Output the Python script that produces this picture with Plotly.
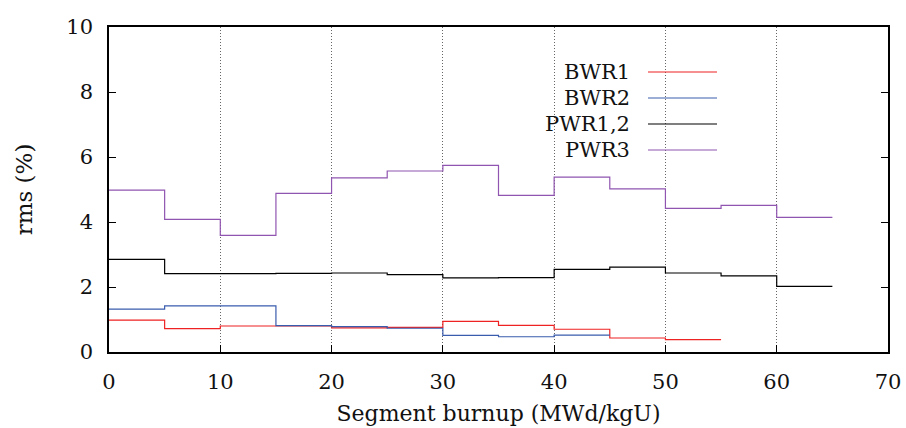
import plotly.graph_objects as go

# Bin start edges (MWd/kgU), bin width 5
bwr1_x = [0, 5, 10, 15, 20, 25, 30, 35, 40, 45, 50]
bwr1_y = [0.98, 0.72, 0.80, 0.80, 0.74, 0.76, 0.94, 0.82, 0.70, 0.43, 0.38]

bwr2_x = [0, 5, 10, 15, 20, 25, 30, 35, 40]
bwr2_y = [1.32, 1.42, 1.42, 0.81, 0.78, 0.73, 0.51, 0.47, 0.52]

pwr12_x = [0, 5, 10, 15, 20, 25, 30, 35, 40, 45, 50, 55, 60]
pwr12_y = [2.85, 2.41, 2.41, 2.42, 2.43, 2.38, 2.28, 2.29, 2.54, 2.61, 2.43, 2.34, 2.02]

pwr3_x = [0, 5, 10, 15, 20, 25, 30, 35, 40, 45, 50, 55, 60]
pwr3_y = [4.98, 4.08, 3.59, 4.88, 5.36, 5.57, 5.74, 4.82, 5.38, 5.02, 4.42, 4.51, 4.14]

bin_width = 5
names = ["BWR1", "BWR2", "PWR1,2", "PWR3"]
colors = ["#ee2222", "#3a5cad", "#000000", "#9055b0"]
series = [(bwr1_x, bwr1_y), (bwr2_x, bwr2_y), (pwr12_x, pwr12_y), (pwr3_x, pwr3_y)]

x_ticks = [0, 10, 20, 30, 40, 50, 60, 70]
y_ticks = [0, 2, 4, 6, 8, 10]

FONT = "DejaVu Serif, serif"
L, R, T, B = 109, 18, 27, 76
PW, PH = 906 - L - R, 428 - T - B

fig = go.Figure()
for (xs, ys), name, col in zip(series, names, colors):
    xx = list(xs) + [xs[-1] + bin_width]
    yy = list(ys) + [ys[-1]]
    fig.add_trace(go.Scatter(x=xx, y=yy, mode="lines", line_shape="hv",
                             line=dict(color=col, width=1.2), name=name,
                             showlegend=False))

# Custom key (text right-aligned, sample line to the right), on a white box
fig.add_shape(type="rect", xref="paper", yref="paper",
              x0=(540 - L) / PW, x1=(726 - L) / PW,
              y0=(352 - 163) / PH, y1=(352 - 58) / PH,
              fillcolor="white", line=dict(width=0), layer="below")
rows_py = [72, 98, 124, 150]
for name, col, py in zip(names, colors, rows_py):
    yp = (352 - py) / PH
    fig.add_annotation(xref="paper", yref="paper", x=(632 - L) / PW, y=yp,
                       text=name, showarrow=False, xanchor="right", yanchor="middle",
                       font=dict(family=FONT, size=21, color="#111"))
    fig.add_shape(type="line", xref="paper", yref="paper",
                  x0=(648 - L) / PW, x1=(717 - L) / PW, y0=yp, y1=yp,
                  line=dict(color=col, width=1.2))

fig.update_layout(
    width=906, height=428,
    margin=dict(l=L, r=R, t=T, b=B),
    paper_bgcolor="white", plot_bgcolor="white",
    font=dict(family=FONT, size=21, color="#111"),
)
fig.update_xaxes(range=[0, 70], tickvals=x_ticks, ticks="inside", ticklen=7,
                 tickcolor="black", showline=True, linecolor="black", linewidth=1.5,
                 mirror=True, showgrid=True, gridcolor="#666", griddash="1px,2px",
                 gridwidth=1, zeroline=False, ticklabelstandoff=10, automargin=False,
                 title=dict(text="Segment burnup (MWd/kgU)", standoff=13,
                            font=dict(family=FONT, size=22)))
fig.update_yaxes(range=[0, 10], tickvals=y_ticks, ticks="inside", ticklen=7,
                 tickcolor="black", showline=True, linecolor="black", linewidth=1.5,
                 mirror="allticks", showgrid=False, zeroline=False,
                 ticklabelstandoff=10, automargin=False,
                 title=dict(text="rms (%)", standoff=27,
                            font=dict(family=FONT, size=23)))

fig.write_html("out.html")
